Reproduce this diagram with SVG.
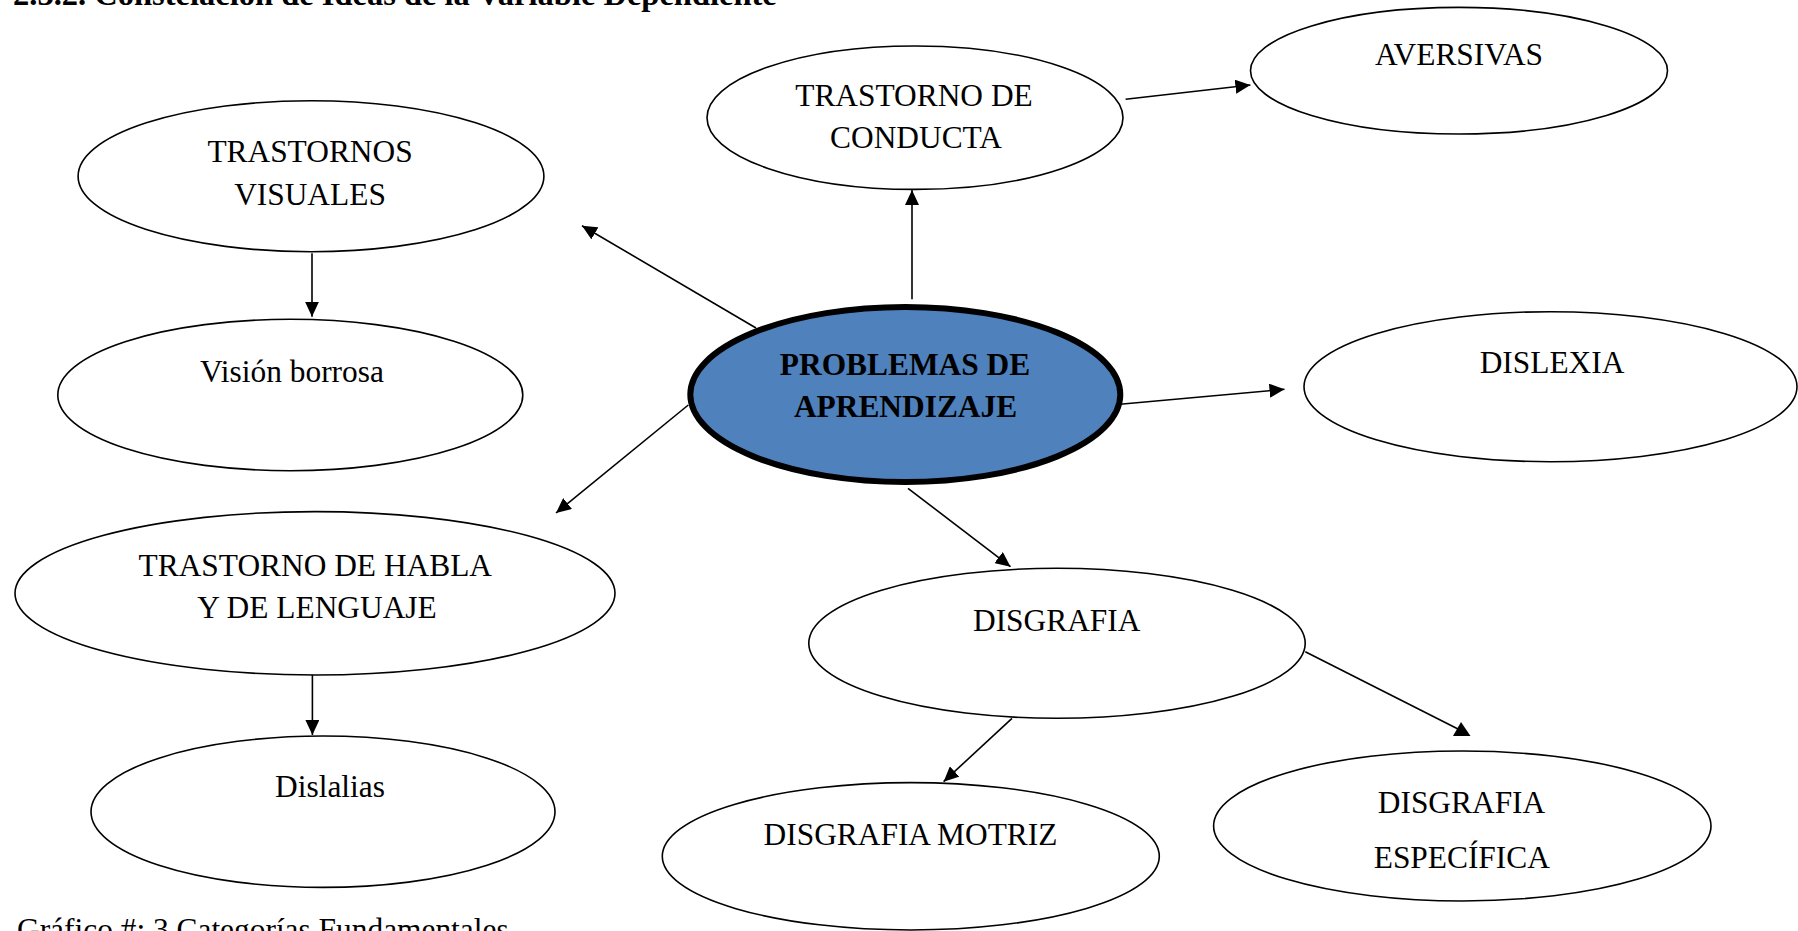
<svg xmlns="http://www.w3.org/2000/svg" width="1798" height="931" viewBox="0 0 1798 931">
<defs>
<marker id="arr" markerUnits="userSpaceOnUse" markerWidth="16" markerHeight="14" refX="15" refY="7" orient="auto">
<path d="M0,0 L15,7 L0,14 z" fill="#000"/>
</marker>
<style>
.node{fill:#fff;stroke:#000;stroke-width:1.6}
.main{fill:#4F81BD;stroke:#000;stroke-width:6}
.t{font-family:"Liberation Serif","Times New Roman",serif;font-size:31.4px;fill:#000;text-anchor:middle}
.b{font-weight:bold}
.c{stroke:#000;stroke-width:1.6;fill:none}
.a{marker-end:url(#arr)}
</style>
</defs>
<rect width="1798" height="931" fill="#fff"/>
<text x="13" y="5" class="t b" style="text-anchor:start;font-size:32.5px">2.3.2. Constelación de Ideas de la Variable Dependiente</text>
<g id="connectors">
<line class="c a" x1="756" y1="328" x2="582" y2="225.7"/>
<line class="c a" x1="688.3" y1="405" x2="556" y2="513"/>
<line class="c a" x1="912" y1="299.3" x2="912" y2="190"/>
<line class="c a" x1="1111.7" y1="405" x2="1284.5" y2="389.3"/>
<line class="c a" x1="908" y1="488.3" x2="1010.5" y2="566.7"/>
<line class="c a" x1="312" y1="253.3" x2="312" y2="316.7"/>
<line class="c a" x1="312.4" y1="671.7" x2="312.4" y2="735"/>
<line class="c a" x1="1125.6" y1="99.3" x2="1250.4" y2="85"/>
<line class="c a" x1="1012" y1="718.3" x2="943.6" y2="781.7"/>
<line class="c" x1="1305.3" y1="651.7" x2="1460" y2="730"/>
<polygon points="1453,736 1470.5,736 1461,722" fill="#000"/>
</g>
<g id="n-visuales">
<ellipse class="node" cx="311" cy="176.2" rx="232.9" ry="75.5"/>
<text class="t" x="310" y="161.7">TRASTORNOS</text>
<text class="t" x="310" y="205">VISUALES</text>
</g>
<g id="n-vision">
<ellipse class="node" cx="290.3" cy="395" rx="232.5" ry="75.7"/>
<text class="t" x="292" y="381.7">Visión borrosa</text>
</g>
<g id="n-habla">
<ellipse class="node" cx="315" cy="593.3" rx="300" ry="81.7"/>
<text class="t" x="315.3" y="576">TRASTORNO DE HABLA</text>
<text class="t" x="317" y="617.7">Y DE LENGUAJE</text>
</g>
<g id="n-dislalias">
<ellipse class="node" cx="323" cy="811.7" rx="232" ry="75.7"/>
<text class="t" x="330" y="797.3">Dislalias</text>
</g>
<g id="n-conducta">
<ellipse class="node" cx="915" cy="117.7" rx="208" ry="71.7"/>
<text class="t" x="914" y="106">TRASTORNO DE</text>
<text class="t" x="916" y="148.3">CONDUCTA</text>
</g>
<g id="n-aversivas">
<ellipse class="node" cx="1459" cy="70.7" rx="208.5" ry="63.3"/>
<text class="t" x="1459" y="65">AVERSIVAS</text>
</g>
<g id="n-problemas">
<ellipse class="main" cx="905.3" cy="394.5" rx="215" ry="87.5"/>
<text class="t b" x="905" y="375">PROBLEMAS DE</text>
<text class="t b" x="905.5" y="416.7">APRENDIZAJE</text>
</g>
<g id="n-dislexia">
<ellipse class="node" cx="1550.5" cy="386.7" rx="246.5" ry="75"/>
<text class="t" x="1552" y="372.7">DISLEXIA</text>
</g>
<g id="n-disgrafia">
<ellipse class="node" cx="1057" cy="643.3" rx="248.2" ry="75"/>
<text class="t" x="1056.7" y="630.7">DISGRAFIA</text>
</g>
<g id="n-motriz">
<ellipse class="node" cx="910.8" cy="856.3" rx="248.5" ry="73.7"/>
<text class="t" x="910.5" y="845">DISGRAFIA MOTRIZ</text>
</g>
<g id="n-especifica">
<ellipse class="node" cx="1462.3" cy="826" rx="248.7" ry="75"/>
<text class="t" x="1461.5" y="812.7">DISGRAFIA</text>
<text class="t" x="1461.8" y="868.3">ESPECÍFICA</text>
</g>
<text x="17" y="940" class="t" style="text-anchor:start">Gráfico #: 3 Categorías Fundamentales</text>
</svg>
